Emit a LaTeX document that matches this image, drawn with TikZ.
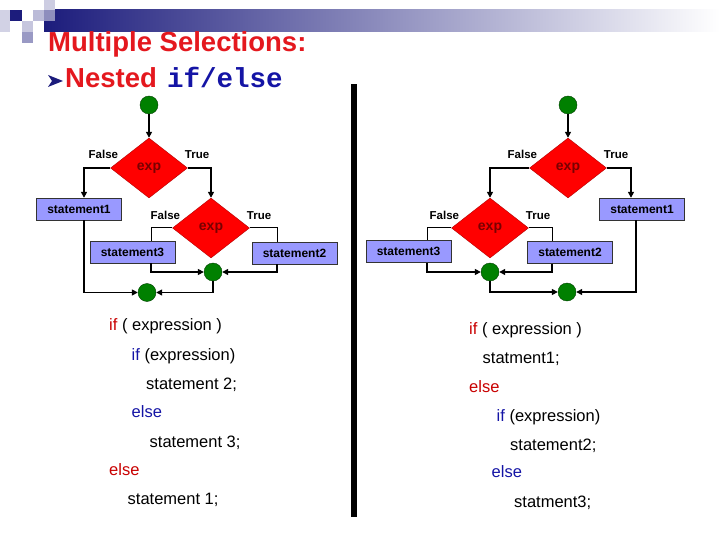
\documentclass[tikz,border=0pt]{standalone}
\usepackage{fontspec}
\setmainfont{Liberation Sans}
\newfontfamily\codefont{Liberation Mono}
\usetikzlibrary{shapes.geometric,arrows.meta}
\definecolor{titlered}{RGB}{228,24,30}
\definecolor{kwred}{RGB}{200,0,0}
\definecolor{kwblue}{RGB}{20,20,165}
\definecolor{navy}{RGB}{28,28,124}
\definecolor{boxblue}{RGB}{153,153,255}
\definecolor{expred}{RGB}{120,0,0}
\definecolor{jointgreen}{RGB}{0,128,0}
\begin{document}
\begin{tikzpicture}[x=1pt,y=-1pt,
	cond/.style={diamond,draw=red!70!black,fill=red,minimum width=77pt,minimum height=60pt,inner sep=0pt,text=expred,font=\fontsize{14}{14}\bfseries},
	stmt/.style={rectangle,draw=black!80,fill=boxblue,minimum width=85pt,minimum height=22pt,inner sep=0pt,font=\fontsize{12}{12}\bfseries},
	joint/.style={circle,draw=green!25!black,fill=jointgreen,minimum size=18pt,inner sep=0pt},
	lbl/.style={inner sep=0pt,font=\fontsize{11.5}{12}\bfseries},
	arr/.style={line width=1.8pt,-{Triangle[length=6pt,width=6pt]}},
	ln/.style={line width=1pt},
	code/.style={anchor=base west,inner sep=0pt,font=\fontsize{16.5}{18}\selectfont}]
	\useasboundingbox (0,0) rectangle (720,540);
	% header
	\shade[left color=navy,right color=white] (44,10) rectangle (720,32);
	\fill[navy!20] (0,10) rectangle (10,32);
	\fill[navy] (10,10) rectangle (22,21);
	\fill[navy!25] (22,21) rectangle (33,32);
	\fill[navy!45] (22,32) rectangle (33,43);
	\fill[navy!30] (33,10) rectangle (44,21);
	\fill[navy!22] (44,0) rectangle (55,10);
	\fill[navy!50] (44,10) rectangle (55,21);
	\node[anchor=base west,inner sep=0pt,text=titlered,font=\fontsize{27.5}{30}\bfseries] (title) at (48,51.7) {Multiple Selections:};
	\fill[navy] (48,75) -- (63,81) -- (48,87) -- (52,81) -- cycle;
	\node[anchor=base west,inner sep=0pt,text=titlered,font=\fontsize{27.5}{30}\bfseries] (nested) at (65,87.3) {Nested};
	\node[anchor=base west,inner sep=0pt,text=kwblue,font=\codefont\fontsize{27.5}{30}\bfseries] (ifelse) at (167,87.3) {if/else};
	\fill (351,84) rectangle (357,517);
	% left chart
	\node[joint] (lt) at (149,105) {};
	\node[cond] (ld1) at (149,168) {exp};
	\node[stmt] (ls1) at (79,209) {statement1};
	\node[cond] (ld2) at (211,228) {exp};
	\node[stmt] (ls3) at (132.5,252) {statement3};
	\node[stmt] (ls2) at (294.5,253) {statement2};
	\node[joint] (lm2) at (213,272) {};
	\node[joint] (lm3) at (147,292.5) {};
	\node[lbl,anchor=base east] (lf1) at ([xshift=8pt,yshift=9pt]ld1.west) {False};
	\node[lbl,anchor=base west] (ltr1) at ([xshift=-3pt,yshift=9pt]ld1.east) {True};
	\node[lbl,anchor=base east] (lf2) at ([xshift=8pt,yshift=9pt]ld2.west) {False};
	\node[lbl,anchor=base west] (ltr2) at ([xshift=-3pt,yshift=9pt]ld2.east) {True};
	\draw[arr] (lt.south) -- (ld1.north);
	\draw[arr] (ld1.west) -| ([xshift=5pt]ls1.north);
	\draw[arr] (ld1.east) -| (ld2.north);
	\draw[ln] (ld2.west) -| ([xshift=18.5pt]ls3.north);
	\draw[ln] (ld2.east) -| ([xshift=-17.5pt]ls2.north);
	\draw[arr] ([xshift=18.5pt]ls3.south) |- (lm2.west);
	\draw[arr] ([xshift=-17.5pt]ls2.south) |- (lm2.east);
	\draw[arr] (lm2.south) |- (lm3.east);
	\draw[arr] ([xshift=5pt]ls1.south) |- (lm3.west);
	% right chart
	\node[joint] (rt) at (568,105) {};
	\node[cond] (rd1) at (568,168) {exp};
	\node[cond] (rd2) at (490,228) {exp};
	\node[stmt] (rs3) at (408.5,251.5) {statement3};
	\node[stmt] (rs2) at (570,252.5) {statement2};
	\node[stmt] (rs1) at (642,209) {statement1};
	\node[joint] (rm2) at (490,272) {};
	\node[joint] (rm3) at (567,292) {};
	\node[lbl,anchor=base east] (rf1) at ([xshift=8pt,yshift=9pt]rd1.west) {False};
	\node[lbl,anchor=base west] (rtr1) at ([xshift=-3pt,yshift=9pt]rd1.east) {True};
	\node[lbl,anchor=base east] (rf2) at ([xshift=8pt,yshift=9pt]rd2.west) {False};
	\node[lbl,anchor=base west] (rtr2) at ([xshift=-3pt,yshift=9pt]rd2.east) {True};
	\draw[arr] (rt.south) -- (rd1.north);
	\draw[arr] (rd1.west) -| (rd2.north);
	\draw[arr] (rd1.east) -| ([xshift=-11pt]rs1.north);
	\draw[ln] (rd2.west) -| ([xshift=18.5pt]rs3.north);
	\draw[ln] (rd2.east) -| ([xshift=-18pt]rs2.north);
	\draw[arr] ([xshift=18.5pt]rs3.south) |- (rm2.west);
	\draw[arr] ([xshift=-18pt]rs2.south) |- (rm2.east);
	\draw[arr] (rm2.south) |- (rm3.west);
	\draw[arr] ([xshift=-6pt]rs1.south) |- (rm3.east);
	% code
	\node[code] (l1) at (109,330.5) {\textcolor{kwred}{if} ( expression )};
	\node[code] (l2) at (131.5,360.5) {\textcolor{kwblue}{if} (expression)};
	\node[code] (l3) at (146,389) {statement 2;};
	\node[code,text=kwblue] (l4) at (131.5,417.5) {else};
	\node[code] (l5) at (149.5,447.5) {statement 3;};
	\node[code,text=kwred] (l6) at (109,475.5) {else};
	\node[code] (l7) at (127.5,504) {statement 1;};
	\node[code] (r1) at (469,334) {\textcolor{kwred}{if} ( expression )};
	\node[code] (r2) at (482.5,363) {statment1;};
	\node[code,text=kwred] (r3) at (469,392) {else};
	\node[code] (r4) at (496.5,421) {\textcolor{kwblue}{if} (expression)};
	\node[code] (r5) at (510,450) {statement2;};
	\node[code,text=kwblue] (r6) at (491.5,477) {else};
	\node[code] (r7) at (514,507) {statment3;};
\end{tikzpicture}
\end{document}
